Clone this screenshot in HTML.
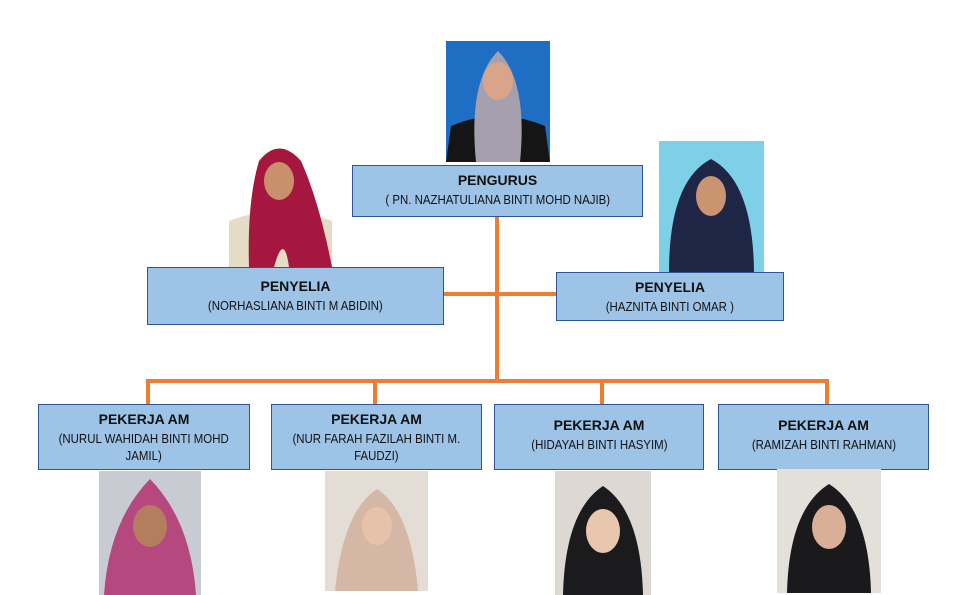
<!DOCTYPE html>
<html><head><style>
body{margin:0;width:963px;height:595px;background:#fff;position:relative;overflow:hidden;font-family:"Liberation Sans",sans-serif}
.b{position:absolute;background:#9DC3E6;border:1.5px solid #2F5597;box-sizing:border-box;text-align:center;color:#111}
.b .t{font-weight:bold;font-size:14px;margin-top:6px}
.b .n{font-size:13px;margin-top:5px;line-height:17px;display:inline-block;transform:scaleX(0.88);white-space:nowrap}
.l{position:absolute;background:#ED7D31}
svg.p{position:absolute}
</style></head><body>
<div class="l" style="left:495px;top:217px;width:4px;height:166px"></div>
<div class="l" style="left:443px;top:292px;width:113px;height:4px"></div>
<div class="l" style="left:146px;top:379px;width:683px;height:4px"></div>
<div class="l" style="left:146px;top:379px;width:4px;height:25px"></div>
<div class="l" style="left:373px;top:379px;width:4px;height:25px"></div>
<div class="l" style="left:600px;top:379px;width:4px;height:25px"></div>
<div class="l" style="left:825px;top:379px;width:4px;height:25px"></div>

<div class="b" style="left:352px;top:165px;width:291px;height:52px"><div class="t">PENGURUS</div><div class="n" style="margin-top:3px">( PN. NAZHATULIANA BINTI MOHD NAJIB)</div></div>
<div class="b" style="left:147px;top:267px;width:297px;height:58px"><div class="t" style="margin-top:10px">PENYELIA</div><div class="n" style="margin-top:3px">(NORHASLIANA BINTI M ABIDIN)</div></div>
<div class="b" style="left:556px;top:272px;width:228px;height:49px"><div class="t">PENYELIA</div><div class="n" style="margin-top:3px">(HAZNITA BINTI OMAR )</div></div>
<div class="b" style="left:38px;top:404px;width:212px;height:66px"><div class="t">PEKERJA AM</div><div class="n" style="margin-top:3px">(NURUL WAHIDAH BINTI MOHD<br>JAMIL)</div></div>
<div class="b" style="left:271px;top:404px;width:211px;height:66px"><div class="t">PEKERJA AM</div><div class="n" style="margin-top:3px">(NUR FARAH FAZILAH BINTI M.<br>FAUDZI)</div></div>
<div class="b" style="left:494px;top:404px;width:210px;height:66px"><div class="t" style="margin-top:12px">PEKERJA AM</div><div class="n" style="margin-top:3px">(HIDAYAH BINTI HASYIM)</div></div>
<div class="b" style="left:718px;top:404px;width:211px;height:66px"><div class="t" style="margin-top:12px">PEKERJA AM</div><div class="n" style="margin-top:3px">(RAMIZAH BINTI RAHMAN)</div></div>

<svg class="p" style="left:446px;top:41px" width="104" height="121"><rect width="104" height="121" fill="#1E6FC4"/><path d="M0 121 L5 85 Q52 65 99 85 L104 121Z" fill="#151515"/><path d="M30 121 Q22 40 52 10 Q82 40 74 121Z" fill="#A59FAE"/><ellipse cx="52" cy="40" rx="15" ry="19" fill="#D9A58A"/></svg>
<svg class="p" style="left:229px;top:141px" width="103" height="126"><rect width="103" height="126" fill="#fff"/><path d="M0 126 L0 80 Q50 60 103 80 L103 126Z" fill="#E4DCC4"/><path d="M20 126 Q18 60 30 20 Q50 -5 72 20 Q90 60 103 126 L60 126 Q55 90 45 126Z" fill="#A5173E"/><ellipse cx="50" cy="40" rx="15" ry="19" fill="#C8906C"/></svg>
<svg class="p" style="left:659px;top:141px" width="105" height="131"><rect width="105" height="131" fill="#7ECFE8"/><path d="M10 131 Q10 40 52 18 Q94 40 95 131Z" fill="#1F2545"/><ellipse cx="52" cy="55" rx="15" ry="20" fill="#C9946F"/></svg>
<svg class="p" style="left:99px;top:471px" width="102" height="124"><rect width="102" height="124" fill="#C8CCD2"/><path d="M5 124 Q10 50 51 8 Q92 50 97 124Z" fill="#B5487E"/><ellipse cx="51" cy="55" rx="17" ry="21" fill="#B47E5E"/></svg>
<svg class="p" style="left:325px;top:471px" width="103" height="120"><rect width="103" height="120" fill="#E4DDD6"/><path d="M10 120 Q18 40 52 18 Q86 40 93 120Z" fill="#D4B7A4"/><ellipse cx="52" cy="55" rx="15" ry="19" fill="#E6C2AA"/></svg>
<svg class="p" style="left:555px;top:471px" width="96" height="124"><rect width="96" height="124" fill="#DDD9D2"/><path d="M8 124 Q10 40 48 15 Q86 40 88 124Z" fill="#1B1B1D"/><ellipse cx="48" cy="60" rx="17" ry="22" fill="#E9C7AE"/></svg>
<svg class="p" style="left:777px;top:469px" width="104" height="124"><rect width="104" height="124" fill="#E3E0DA"/><path d="M10 124 Q12 40 52 15 Q92 40 94 124Z" fill="#1A1A1D"/><ellipse cx="52" cy="58" rx="17" ry="22" fill="#D9AF98"/></svg>
</body></html>
